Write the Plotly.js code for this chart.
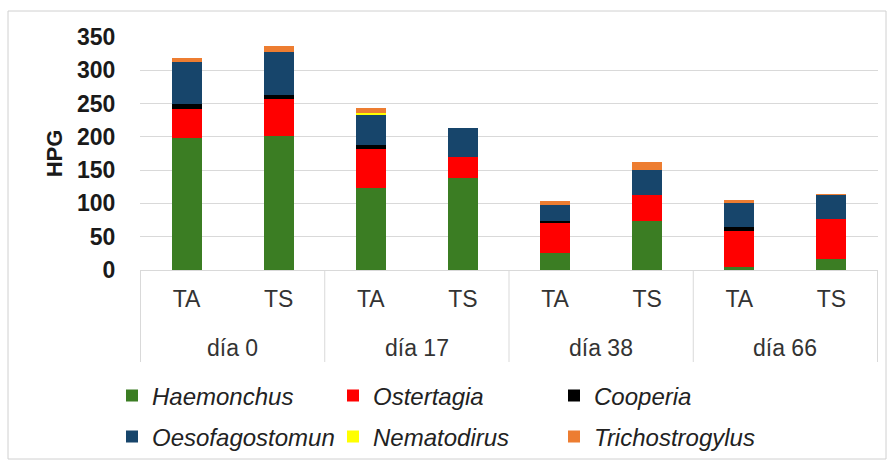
<!DOCTYPE html>
<html>
<head>
<meta charset="utf-8">
<script src="https://cdn.plot.ly/plotly-3.0.1.min.js"></script>
<style>html,body{margin:0;padding:0;background:#fff;}#chart{width:894px;height:463px;}</style>
</head>
<body>
<div id="chart"></div>
<script>
// ---- data ----
const groups = ["día 0", "día 17", "día 38", "día 66"];
const treatments = ["TA", "TS"];
const seriesNames = ["Haemonchus", "Ostertagia", "Cooperia", "Oesofagostomun", "Nematodirus", "Trichostrogylus"];
// order of bars: día0 TA, día0 TS, día17 TA, día17 TS, día38 TA, día38 TS, día66 TA, día66 TS
const haemonchus      = [198, 202, 123, 138, 26, 74, 4, 17];
const ostertagia      = [44, 55, 59, 32, 44, 38, 54, 60];
const cooperia        = [8, 6, 6, 0, 3, 0, 6, 0];
const oesofagostomun  = [62, 64, 45, 44, 25, 38, 36, 36];
const nematodirus     = [1, 1, 3, 0, 0, 0, 0, 0];
const trichostrogylus = [5, 9, 7, 0, 5, 12, 5, 1];
const yTicks = [0, 50, 100, 150, 200, 250, 300, 350];

// ---- styles ----
const colors = ["#3b7d23", "#ff0000", "#000000", "#17456b", "#ffff00", "#ed7d31"];
const seriesValues = [haemonchus, ostertagia, cooperia, oesofagostomun, nematodirus, trichostrogylus];

const cats = [];
const subLabels = [];
groups.forEach(g => treatments.forEach(t => { cats.push(g + " " + t); subLabels.push(t); }));

const traces = seriesNames.map((n, i) => ({
  type: "bar",
  name: n,
  x: cats,
  y: seriesValues[i],
  legend: i < 3 ? "legend" : "legend2",
  marker: {color: colors[i], line: {width: 0}},
  hoverinfo: "name+y"
}));

const W = 894, H = 463;
const M = {l: 140, r: 16, t: 37, b: 193, autoexpand: false};
const pw = W - M.l - M.r, ph = H - M.t - M.b;
const px2x = px => (px - M.l) / pw;
const py2y = py => (H - M.b - py) / ph;

const shapes = [];
// group dividers
for (let k = 0; k <= groups.length; k++) {
  shapes.push({type: "line", xref: "x", yref: "paper",
    x0: k * treatments.length - 0.5, x1: k * treatments.length - 0.5,
    y0: 0, y1: py2y(362), line: {color: "#d9d9d9", width: 1}});
}
// outer frame
shapes.push({type: "rect", xref: "paper", yref: "paper",
  x0: px2x(8), x1: px2x(886), y0: py2y(11), y1: py2y(459),
  line: {color: "#d0d0d0", width: 1}, fillcolor: "rgba(0,0,0,0)", layer: "below"});

const annotations = groups.map((g, k) => ({
  xref: "x", yref: "paper", x: k * treatments.length + (treatments.length - 1) / 2,
  y: py2y(348), text: g, showarrow: false, yanchor: "middle",
  font: {family: "Liberation Sans, Arial, sans-serif", size: 23, color: "#333333"}
}));

const legendFont = {family: "Liberation Sans, Arial, sans-serif", size: 24, color: "#222222", style: "italic"};
const legendBase = {
  orientation: "h", xanchor: "left", yanchor: "middle",
  entrywidth: 176, entrywidthmode: "pixels", traceorder: "normal",
  font: legendFont, itemwidth: 30, bgcolor: "rgba(0,0,0,0)"
};

const layout = {
  width: W, height: H,
  margin: M,
  paper_bgcolor: "#ffffff", plot_bgcolor: "#ffffff",
  barmode: "stack",
  bargap: 0.675,
  showlegend: true,
  legend: Object.assign({}, legendBase, {x: px2x(112), y: py2y(396)}),
  legend2: Object.assign({}, legendBase, {x: px2x(112), y: py2y(437)}),
  xaxis: {
    type: "category",
    tickvals: cats, ticktext: subLabels,
    ticks: "outside", ticklen: 8, tickcolor: "rgba(0,0,0,0)",
    tickfont: {family: "Liberation Sans, Arial, sans-serif", size: 23, color: "#333333"},
    showgrid: false, showline: true, linecolor: "#d9d9d9", linewidth: 1,
    zeroline: false, fixedrange: true
  },
  yaxis: {
    range: [0, 350], tickvals: yTicks, ticktext: yTicks.map(String),
    ticks: "outside", ticklen: 19, tickcolor: "rgba(0,0,0,0)",
    tickfont: {family: "Liberation Sans, Arial, sans-serif", size: 23, color: "#1a1a1a", weight: "bold"},
    showgrid: true, gridcolor: "#d9d9d9", gridwidth: 1,
    zeroline: false, showline: false, fixedrange: true,
    title: {text: "<b>HPG</b>", font: {family: "Liberation Sans, Arial, sans-serif", size: 22, color: "#1a1a1a"}, standoff: 8}
  },
  shapes: shapes,
  annotations: annotations
};

Plotly.newPlot("chart", traces, layout, {displayModeBar: false, staticPlot: true});
</script>
</body>
</html>
